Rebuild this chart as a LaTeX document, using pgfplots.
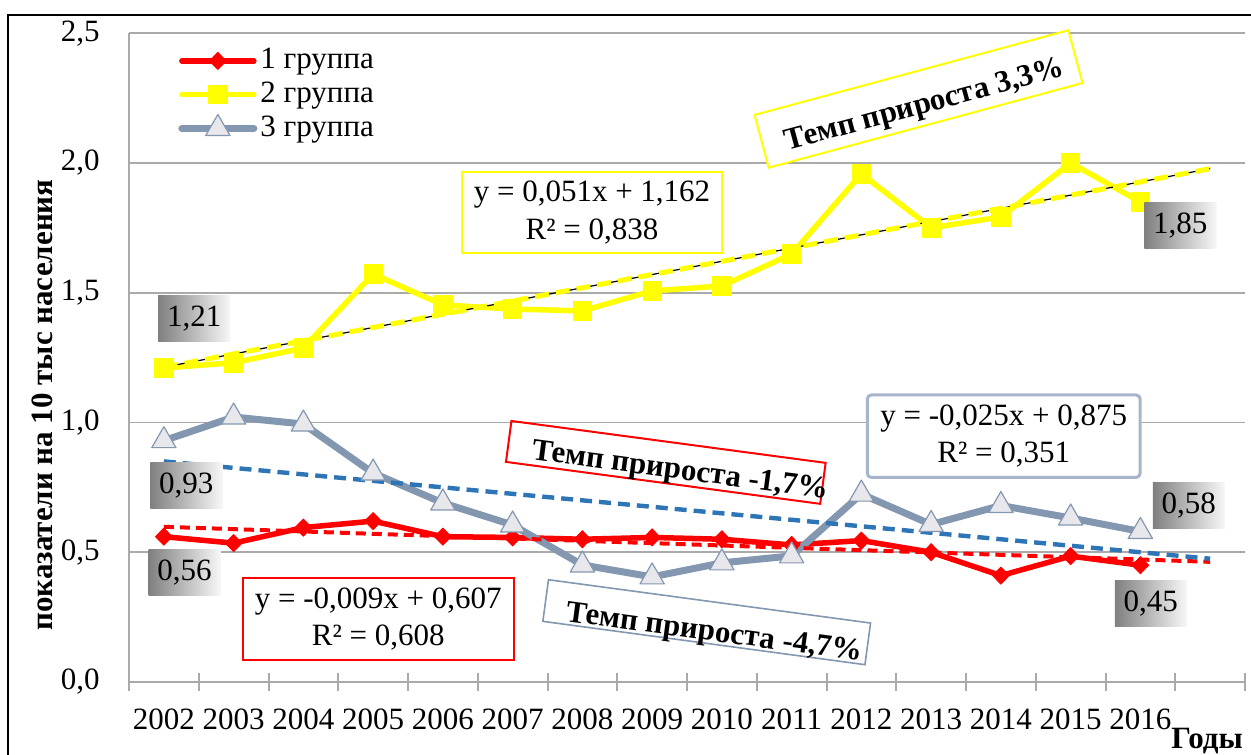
\documentclass[border=0pt]{standalone}
\usepackage{fontspec}
\setmainfont{Liberation Serif}
\usepackage{pgfplots}
\pgfplotsset{compat=1.18}
\definecolor{cRed}{RGB}{255,0,0}
\definecolor{cYel}{RGB}{255,255,0}
\definecolor{cGray}{RGB}{132,151,176}
\definecolor{cTri}{RGB}{232,232,236}
\definecolor{cBlue}{RGB}{46,117,182}
\definecolor{cGrid}{RGB}{170,170,170}
\definecolor{cBox}{RGB}{166,181,203}
\begin{document}
\fontsize{15.5}{18.6}\selectfont
\begin{tikzpicture}
\useasboundingbox (0,0) rectangle (625.5pt,377pt);
\draw[black, line width=1pt] (4.15pt,-5pt) -- (4.15pt,369.5pt) -- (640pt,369.5pt);
\begin{axis}[
  at={(64.5pt,36pt)}, anchor=south west,
  scale only axis, width=558pt, height=324.4pt,
  xmin=-0.5, xmax=15.5, ymin=0, ymax=2.5,
  axis x line*=bottom, axis y line*=left,
  axis line style={draw=cGrid, line width=1pt, -},
  xtick={0,1,...,14},
  xticklabels={2002,2003,2004,2005,2006,2007,2008,2009,2010,2011,2012,2013,2014,2015,2016},
  minor xtick={-0.5,0.5,...,15.5},
  major tick length=0pt, minor tick length=9pt, tick align=center,
  minor x tick style={draw=cGrid, line width=1pt},
  ytick={0,0.5,...,2.5},
  ymajorgrids, grid style={draw=cGrid, line width=0.8pt},
  yticklabel style={/pgf/number format/fixed, /pgf/number format/fixed zerofill, /pgf/number format/precision=1, /pgf/number format/use comma, /pgf/number format/assume math mode=true},
  yticklabel style={anchor=east, inner sep=0pt, xshift=-14.5pt},
  xticklabel style={anchor=base, inner sep=0pt, yshift=-24pt},
  legend style={at={(0.0385,0.988)}, anchor=north west, draw=none, fill=none, row sep=1.3pt,
    nodes={inner sep=1.5pt}},
  legend cell align=left,
  legend image code/.code={\draw[mark repeat=2,mark phase=2,#1] plot coordinates {(0pt,0pt) (18pt,0pt) (36pt,0pt)};},
]
\addplot[cRed, line width=2.75pt, line join=round, line cap=round, mark=diamond*, mark size=4.3pt,
  mark options={xscale=1.3, fill=cRed, draw=cRed, line width=0.4pt}] coordinates {
(0,0.56) (1,0.535) (2,0.595) (3,0.62) (4,0.56) (5,0.557) (6,0.55) (7,0.557) (8,0.55) (9,0.528) (10,0.545) (11,0.50) (12,0.41) (13,0.485) (14,0.45)};
\addlegendentry{1 группа}
\addplot[cYel, line width=2.75pt, line join=round, line cap=round, mark=square*, mark size=4.6pt,
  mark options={fill=cYel, draw=cYel, line width=0.4pt}] coordinates {
(0,1.21) (1,1.23) (2,1.287) (3,1.572) (4,1.453) (5,1.437) (6,1.43) (7,1.507) (8,1.526) (9,1.649) (10,1.958) (11,1.75) (12,1.792) (13,2.0) (14,1.85)};
\addlegendentry{2 группа}
\addplot[cGray, line width=3.5pt, line join=round, line cap=round, mark=triangle*, mark size=7pt,
  mark options={fill=cTri, draw=cGray, line width=0.6pt}] coordinates {
(0,0.93) (1,1.021) (2,0.994) (3,0.805) (4,0.69) (5,0.605) (6,0.451) (7,0.405) (8,0.459) (9,0.486) (10,0.724) (11,0.607) (12,0.68) (13,0.632) (14,0.58)};
\addlegendentry{3 группа}
% trend lines
\addplot[forget plot, cRed, line width=2pt, dash pattern=on 5pt off 3pt] coordinates {(0,0.598) (15,0.463)};
\addplot[forget plot, cBlue, line width=2.2pt, dash pattern=on 6pt off 3.5pt] coordinates {(0,0.850) (15,0.475)};
\addplot[forget plot, black, line width=0.6pt] coordinates {(0,1.213) (15,1.978)};
\addplot[forget plot, cYel, line width=2.5pt, dash pattern=on 7pt off 3.5pt] coordinates {(0,1.213) (15,1.978)};
\end{axis}
% equation boxes
\node[draw=cYel, line width=0.9pt, fill=white, minimum width=130pt, minimum height=40.5pt, align=center, inner sep=0pt]
  at (296pt,270.75pt) {y = 0,051x + 1,162\\R² = 0,838};
\node[draw=cBox, line width=1.5pt, rounded corners=2pt, fill=white, minimum width=136.4pt, minimum height=41.2pt, align=center, inner sep=0pt]
  at (501.85pt,158.9pt) {y = -0,025x + 0,875\\R² = 0,351};
\node[draw=cRed, line width=1pt, fill=white, minimum width=135.7pt, minimum height=41pt, align=center, inner sep=0pt]
  at (189.15pt,67.4pt) {y = -0,009x + 0,607\\R² = 0,608};
% growth rate boxes
\draw[cYel, line width=1pt, fill=white, rotate around={15.1:(459.25pt,327.5pt)}] (378pt,313.85pt) rectangle (540.5pt,341.15pt);
\node[rotate=15.1, inner sep=0pt, font=\bfseries] at (462.5pt,324pt) {Темп прироста 3,3\%};
\draw[cRed, line width=1pt, rotate around={-7.6:(332.9pt,145.8pt)}] (253.65pt,135.475pt) rectangle (412.15pt,156.125pt);
\node[rotate=-7.6, inner sep=0pt, font=\bfseries] at (340pt,141pt) {Темп прироста -1,7\%};
\draw[cGray, line width=0.8pt, fill=white, rotate around={-7.66:(353.35pt,65.9pt)}] (272.1pt,55.4pt) rectangle (434.6pt,76.4pt);
\node[rotate=-7.66, inner sep=0pt, font=\bfseries] at (357pt,60pt) {Темп прироста -4,7\%};
% data labels
\tikzset{dl/.style={minimum width=36pt, minimum height=23pt, inner sep=0pt, left color=black!50, right color=black!3}}
\node[dl] at (97.1pt,217.6pt) {1,21};
\node[dl] at (93.15pt,134.25pt) {0,93};
\node[dl] at (92.25pt,90.75pt) {0,56};
\node[dl] at (590.15pt,264.1pt) {1,85};
\node[dl] at (594.4pt,124.1pt) {0,58};
\node[dl] at (575.4pt,75.15pt) {0,45};
% axis titles
\node[rotate=90, font=\bfseries, inner sep=0pt] at (21pt,174.5pt) {показатели на 10 тыс населения};
\node[font=\bfseries, inner sep=0pt] at (603.5pt,6.5pt) {Годы};
\end{tikzpicture}
\end{document}
